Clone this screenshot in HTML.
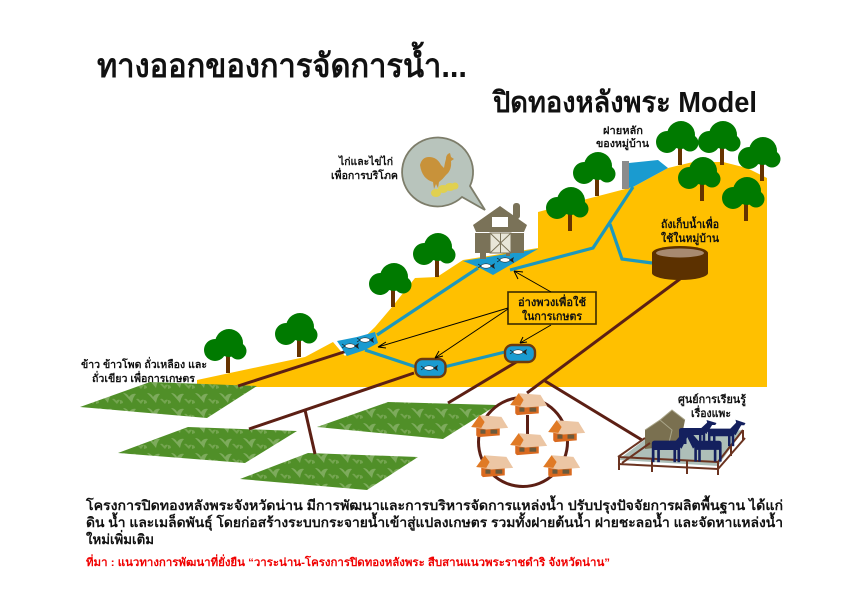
<!DOCTYPE html>
<html lang="th"><head><meta charset="utf-8"><title>ปิดทองหลังพระ Model</title>
<style>
html,body{margin:0;padding:0;background:#fff;width:852px;height:603px;overflow:hidden}
svg{display:block}
text{font-family:"Liberation Sans","Noto Sans CJK SC","DejaVu Sans",sans-serif;font-weight:bold;fill:#111}
</style></head><body>
<svg width="852" height="603" viewBox="0 0 852 603" xmlns="http://www.w3.org/2000/svg">
<defs>
<g id="tree">
<rect x="-2" y="-30" width="4" height="30" fill="#663300"/>
<circle cx="1" cy="-30" r="14" fill="#007a00"/><circle cx="-13" cy="-23" r="11" fill="#007a00"/><circle cx="10" cy="-22" r="8.5" fill="#007a00"/>
</g>
<g id="house" transform="scale(.84)">
<polygon points="-14,-3 14,-3 14,10 -12,12 -14,10" fill="#d96a20"/>
<polygon points="-20,0 -10,-14 16,-12 24,1 -2,3" fill="#ecc6a4"/>
<polygon points="-20,0 -10,-14 -4,-6 -8,1" fill="#e07a25"/>
<rect x="-9" y="3" width="6" height="5" fill="#6b5a3c"/><rect x="3" y="3" width="8" height="5" fill="#6b5a3c"/>
</g>
<g id="fish"><ellipse cx="0" cy="0" rx="5" ry="2.2" fill="#fff" stroke="#111" stroke-width=".5"/><polygon points="4,0 9,-3 8,0 9,3" fill="#222"/><path d="M-8-2l3 2-3 2" stroke="#111" fill="none" stroke-width=".6"/></g>
<g id="goat" fill="#14205e">
<rect x="-12" y="-4" width="21" height="7" rx="2"/>
<polygon points="5,-3 11,-10 15,-8 10,2"/><polygon points="10,-12 18,-9 17,-7 11,-7"/>
<rect x="-12" y="1" width="2" height="11"/><rect x="-8" y="1" width="2" height="11"/><rect x="4" y="1" width="2" height="11"/><rect x="7" y="1" width="2" height="11"/>
</g>
<pattern id="crop" width="24" height="15" patternUnits="userSpaceOnUse">
<rect width="24" height="15" fill="#508f28"/>
<path d="M3 3q4 0 6 4q3-4 7-3q-3 3-4 9q-3-4-9-10z" fill="#7dab5c"/><path d="M16 9q3-1 4 2q2-2 4-1l-3 4zM0 10q3 0 3 3l-3 1z" fill="#74a550"/>
</pattern>
</defs>

<!-- title -->
<text x="97" y="77" font-size="33" textLength="370" lengthAdjust="spacingAndGlyphs">ทางออกของการจัดการน้ำ...</text>
<text x="493" y="112" font-size="29" textLength="264" lengthAdjust="spacingAndGlyphs">ปิดทองหลังพระ Model</text>

<!-- hill -->
<polygon fill="#ffc000" points="197,380 305,357 333,342 345,356 375,327 392,307 415,278 437,277 463,260 538,248 538,212 583,200 633,187 668,168 693,162 723,162 747,168 767,178 767,387 197,387"/>

<!-- trees -->
<use href="#tree" x="228" y="373"/><use href="#tree" x="299" y="357"/><use href="#tree" x="393" y="307"/><use href="#tree" x="437" y="277"/><use href="#tree" x="570" y="231"/><use href="#tree" x="597" y="196"/><use href="#tree" x="680" y="165"/><use href="#tree" x="722" y="165"/><use href="#tree" x="762" y="181"/><use href="#tree" x="702" y="201"/><use href="#tree" x="746" y="221"/>

<!-- dam -->
<polygon points="629,163 658,160 668,168 633,187 629,188" fill="#1a9bd0"/>
<rect x="622" y="161" width="7" height="28" fill="#8c8c8c"/>

<!-- fields -->
<polygon points="80,407 150,382 257,386 207,418" fill="url(#crop)"/>
<polygon points="118,453 188,427 297,431 245,463" fill="url(#crop)"/>
<polygon points="240,479 308,453 418,457 367,490" fill="url(#crop)"/>
<polygon points="317,427 388,402 497,405 443,439" fill="url(#crop)"/>

<!-- brown pipes -->
<g stroke="#5c1f14" stroke-width="3" fill="none">
<path d="M347,351L238,386"/><path d="M414,373L249,429"/><path d="M305,410L315,454"/>
<path d="M518,361L448,403"/><path d="M680,279L527,393"/><path d="M545,381L642,440"/>
</g>

<!-- rivers -->
<g stroke="#1c98bd" stroke-width="3.2" fill="none">
<path d="M633,187L593,248L510,270"/><path d="M610,224L622,259L652,263"/>
<path d="M478,268L377,335"/><path d="M365,350L416,367"/><path d="M444,367L505,352"/>
</g>

<!-- ponds -->
<polygon points="463,261 538,249 493,275 478,267" fill="#1a9bd0"/>
<use href="#fish" x="486" y="266"/><use href="#fish" x="505" y="260"/>
<polygon points="337,341 357,337 375,332 378,343 365,350 347,356" fill="#1a9bd0"/>
<use href="#fish" x="350" y="346"/><use href="#fish" x="365" y="340"/>
<rect x="415.500" y="359" width="30" height="18" rx="7" fill="#1a9bd0" stroke="#6b3a10" stroke-width="2.400"/>
<use href="#fish" x="429" y="368"/>
<rect x="505" y="345" width="30" height="17" rx="7" fill="#1a9bd0" stroke="#6b3a10" stroke-width="2.400"/>
<use href="#fish" x="518" y="352"/>

<!-- tank -->
<path d="M652,253v20a28,7 0 0 0 56,0v-20z" fill="#5c3100"/>
<ellipse cx="680" cy="253" rx="28" ry="7" fill="#5c3100"/><ellipse cx="680" cy="253" rx="24" ry="4.500" fill="#a88a70"/>

<!-- bubble -->
<path d="M470,186A35.500,34.500 0 1 0 462,197L485,210Z" fill="#b8c4bc" stroke="#7d7d6a" stroke-width="1.800"/>
<path d="M420,165q2-8 9-8q8,0 12,8q2,2 3,3q1-6 2-9q0-5 4-6l1,4l3,2l-3,2q1,9-5,14q-3,4-7,7l-1,6l-2-4l-2,5l-1-7q-11-3-13-17z" fill="#c8923a"/>
<g fill="#e0d050"><ellipse cx="436" cy="193" rx="5" ry="4"/><ellipse cx="443" cy="189" rx="5" ry="4"/><ellipse cx="450" cy="187" rx="5" ry="4"/><ellipse cx="455" cy="186" rx="3.500" ry="3.500"/></g>

<!-- barn -->
<g fill="#7a7258">
<rect x="513" y="203" width="7" height="16" rx="3"/>
<polygon points="473,225 500,206 527,225 524,232 476,232"/>
<rect x="475" y="233" width="49" height="20"/>
<rect x="480" y="253" width="6" height="6"/><rect x="506" y="253" width="4" height="3"/>
</g>
<rect x="492" y="217" width="16" height="10" fill="#fff"/>
<rect x="490" y="233" width="21" height="20" fill="#e8e6d8" stroke="#7a7258"/>
<path d="M490,233l21,20M511,233l-21,20M500.500,233v20" stroke="#7a7258" fill="none"/>

<!-- label box & arrows -->
<rect x="508" y="292" width="88" height="32" fill="#ffc000" stroke="#3a2a00" stroke-width="1.600"/>
<g stroke="#000" stroke-width="1" fill="none">
<path d="M551,292L514,271M514,271l9,1M514,271l4,8"/>
<path d="M508,308L378,347M378,347l8,-5M378,347l8,1"/>
<path d="M508,309L435,358M435,358l4,-7M435,358l8,-2"/>
<path d="M551,325L520,343M520,343l3,-6M520,343l7,-1"/>
</g>

<!-- village -->
<circle cx="523" cy="442" r="44.500" fill="none" stroke="#5c1f14" stroke-width="3"/>
<rect x="526" y="415" width="3" height="19" fill="#5c1f14"/>
<use href="#house" x="527" y="405"/><use href="#house" x="488" y="427"/><use href="#house" x="565" y="432"/><use href="#house" x="527" y="445"/><use href="#house" x="493" y="467"/><use href="#house" x="560" y="467"/>

<!-- pen -->
<polygon points="618,460 647,438 743,430 718,466" fill="#aebfb8"/>
<polygon points="645,430 660,420 672,410 685,420 680,445 645,449" fill="#7a7050"/>
<path d="M645,430L660,420L672,430L668,447M660,420L672,410L685,420" stroke="#aaa68a" fill="none"/>
<g stroke="#6b3320" stroke-width="2" fill="none">
<path d="M618,457L718,462L743,430M618,464L718,469L745,438M618,457L645,438M622,463L650,443"/>
<path d="M619,457v13M652,459v13M687,461v13M718,462v13M731,446v10M743,430v10"/>
</g>
<use href="#goat" transform="translate(668,446) scale(1.350)"/>
<use href="#goat" transform="translate(706,446) scale(-1.300,1.300)"/>
<use href="#goat" transform="translate(694,432) scale(1.250,1)"/>
<use href="#goat" transform="translate(723,433) scale(1.250,1.100)"/>

<!-- labels -->
<text x="339" y="165" font-size="10.500" textLength="54" lengthAdjust="spacingAndGlyphs">ไก่และไข่ไก่</text>
<text x="331" y="179" font-size="10.500" textLength="67" lengthAdjust="spacingAndGlyphs">เพื่อการบริโภค</text>
<text x="603" y="134" font-size="10.500" textLength="40" lengthAdjust="spacingAndGlyphs">ฝายหลัก</text>
<text x="596" y="147" font-size="10.500" textLength="53" lengthAdjust="spacingAndGlyphs">ของหมู่บ้าน</text>
<text x="661" y="228" font-size="11" textLength="58" lengthAdjust="spacingAndGlyphs">ถังเก็บน้ำเพื่อ</text>
<text x="661" y="242" font-size="11" textLength="58" lengthAdjust="spacingAndGlyphs">ใช้ในหมู่บ้าน</text>
<text x="518" y="306" font-size="11" textLength="68" lengthAdjust="spacingAndGlyphs">อ่างพวงเพื่อใช้</text>
<text x="522" y="320" font-size="11" textLength="60" lengthAdjust="spacingAndGlyphs">ในการเกษตร</text>
<text x="81" y="368" font-size="10.500" textLength="126" lengthAdjust="spacingAndGlyphs">ข้าว ข้าวโพด ถั่วเหลือง และ</text>
<text x="92" y="382" font-size="10.500" textLength="103" lengthAdjust="spacingAndGlyphs">ถั่วเขียว เพื่อการเกษตร</text>
<text x="678" y="403" font-size="11" textLength="68" lengthAdjust="spacingAndGlyphs">ศูนย์การเรียนรู้</text>
<text x="691" y="417" font-size="11" textLength="40" lengthAdjust="spacingAndGlyphs">เรื่องแพะ</text>

<!-- body -->
<text x="86" y="510" font-size="13.500" textLength="697" lengthAdjust="spacingAndGlyphs">โครงการปิดทองหลังพระจังหวัดน่าน มีการพัฒนาและการบริหารจัดการแหล่งน้ำ ปรับปรุงปัจจัยการผลิตพื้นฐาน ได้แก่</text>
<text x="86" y="527" font-size="13.500" textLength="697" lengthAdjust="spacingAndGlyphs">ดิน น้ำ และเมล็ดพันธุ์ โดยก่อสร้างระบบกระจายน้ำเข้าสู่แปลงเกษตร รวมทั้งฝายต้นน้ำ ฝายชะลอน้ำ และจัดหาแหล่งน้ำ</text>
<text x="86" y="544" font-size="13.500" textLength="68" lengthAdjust="spacingAndGlyphs">ใหม่เพิ่มเติม</text>
<text x="86" y="566" font-size="11" textLength="524" lengthAdjust="spacingAndGlyphs" style="fill:#f00000">ที่มา : แนวทางการพัฒนาที่ยั่งยืน “วาระน่าน-โครงการปิดทองหลังพระ สืบสานแนวพระราชดำริ จังหวัดน่าน”</text>
</svg>
</body></html>
